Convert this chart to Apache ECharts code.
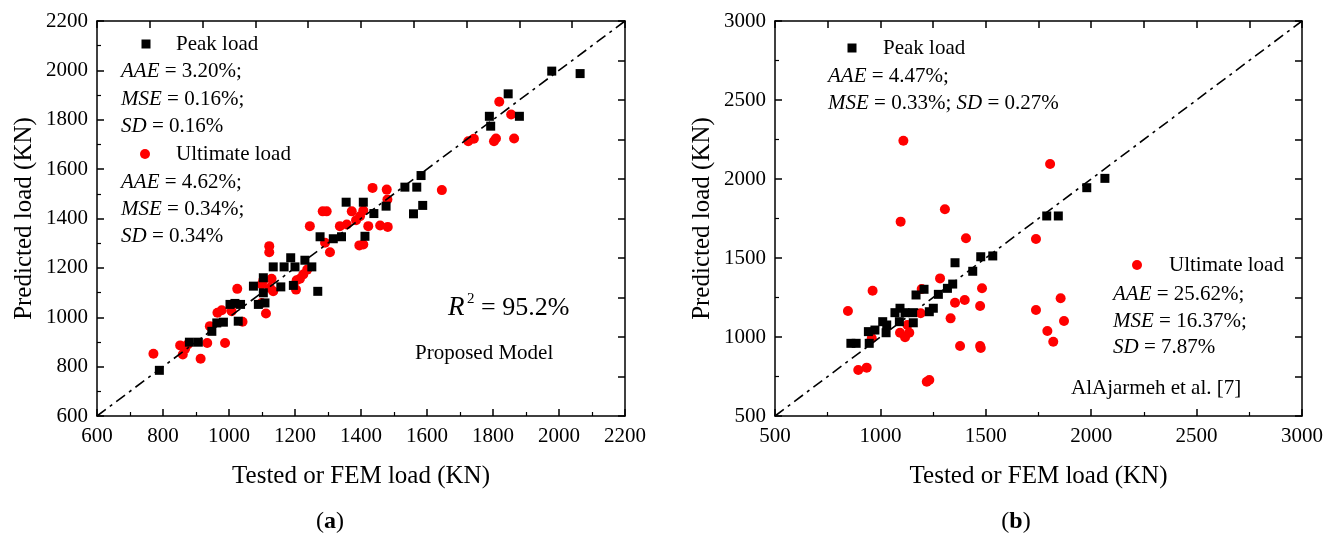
<!DOCTYPE html>
<html>
<head>
<meta charset="utf-8">
<script src="https://cdn.jsdelivr.net/npm/echarts@6/dist/echarts.min.js"></script>
<style>
  html, body { margin: 0; padding: 0; background: #fff; }
  #chart { width: 1339px; height: 538px; }
</style>
</head>
<body>
<div id="chart"></div>
<script>
// ---- axis ranges ----
const rangeA = [600, 2200];      // panel (a) both axes
const stepA = 200;
const rangeB = [500, 3000];      // panel (b) both axes
const stepB = 500;

// ---- panel (a): proposed model, [tested/FEM load, predicted load] ----
const peakA = [
  [789, 785], [880, 899], [907, 899], [948, 943], [963, 977], [983, 980],
  [1003, 1052], [1018, 1056], [1035, 1052], [1028, 984], [1074, 1126], [1089, 1052],
  [1109, 1058], [1104, 1099], [1104, 1160], [1134, 1204], [1157, 1123], [1167, 1204],
  [1187, 1241], [1200, 1204], [1230, 1231], [1251, 1204], [1195, 1129], [1269, 1105],
  [1276, 1326], [1316, 1318], [1341, 1326], [1355, 1466], [1407, 1466], [1439, 1420],
  [1412, 1328], [1476, 1450], [1533, 1527], [1569, 1527], [1582, 1574], [1587, 1453],
  [1559, 1419], [1789, 1814], [1793, 1774], [1880, 1814], [1846, 1905], [1978, 1997],
  [2064, 1987]
];
const ultimateA = [
  [771, 852], [852, 886], [867, 872], [860, 849], [875, 890], [914, 832], [934, 896],
  [988, 896], [942, 964], [965, 1018], [978, 1028], [1008, 1024], [1041, 982],
  [1025, 1115], [1099, 1058], [1112, 1015], [1104, 1150], [1129, 1156], [1099, 1133],
  [1124, 1119], [1134, 1105], [1122, 1288], [1122, 1263], [1205, 1150], [1215, 1156],
  [1225, 1173], [1237, 1193], [1203, 1112], [1245, 1369], [1284, 1429], [1296, 1429],
  [1291, 1302], [1306, 1263], [1336, 1369], [1357, 1376], [1372, 1429], [1385, 1393],
  [1397, 1409], [1407, 1432], [1395, 1291], [1407, 1295], [1422, 1369], [1435, 1524],
  [1478, 1517], [1458, 1372], [1481, 1366], [1480, 1477], [1645, 1515], [1725, 1713],
  [1742, 1723], [1803, 1713], [1809, 1724], [1864, 1724], [1819, 1873], [1855, 1821]
];

// ---- panel (b): AlAjarmeh et al. [7] ----
const peakB = [
  [860, 960], [885, 960], [947, 960], [943, 1034], [974, 1044], [1011, 1097],
  [1027, 1027], [1030, 1076], [1069, 1154], [1093, 1182], [1090, 1097], [1117, 1154],
  [1153, 1154], [1156, 1090], [1169, 1266], [1207, 1302], [1232, 1160], [1251, 1182],
  [1275, 1270], [1318, 1308], [1343, 1335], [1354, 1470], [1438, 1416], [1476, 1508],
  [1533, 1513], [1789, 1766], [1844, 1766], [1979, 1945], [2065, 2004]
];
const ultimateB = [
  [1109, 2242], [1805, 2095], [1306, 1808], [1096, 1730], [1406, 1625], [1738, 1620],
  [963, 1293], [1196, 1304], [1283, 1371], [1482, 1308], [846, 1165], [1354, 1217],
  [1400, 1234], [1473, 1196], [1191, 1150], [1333, 1118], [1738, 1171], [1855, 1245],
  [1871, 1101], [1792, 1038], [1820, 970], [1128, 1076], [1093, 1027], [1137, 1027],
  [1117, 998], [959, 992], [1378, 943], [1473, 943], [1476, 930], [895, 791],
  [935, 806], [1220, 717], [1232, 728]
];

// ---- text ----
const xTitle = 'Tested or FEM load (KN)';
const yTitle = 'Predicted load (KN)';
const nameA = ['Peak load', 'Ultimate load'];

const SERIF = '"Liberation Serif", "Times New Roman", serif';
const BLACK = '#000';
const RED = '#ff0000';

const chart = echarts.init(document.getElementById('chart'), null, { renderer: 'canvas' });

const plainNumber = v => String(v);

function mainX(grid, range, step) {
  return {
    gridIndex: grid, type: 'value', position: 'bottom',
    min: range[0], max: range[1], interval: step,
    name: xTitle, nameLocation: 'middle', nameGap: 48,
    nameTextStyle: { fontFamily: SERIF, fontSize: 25, color: BLACK },
    axisLine: { show: true, onZero: false, lineStyle: { color: BLACK, width: 1.5 } },
    axisTick: { show: true, inside: true, length: 7, lineStyle: { color: BLACK, width: 1.5 } },
    minorTick: { show: true, splitNumber: 2, length: 4, lineStyle: { color: BLACK, width: 1.2 } },
    axisLabel: { fontFamily: SERIF, fontSize: 21, color: BLACK, margin: 10, formatter: plainNumber },
    splitLine: { show: false }
  };
}
function mainY(grid, range, step) {
  return {
    gridIndex: grid, type: 'value', position: 'left',
    min: range[0], max: range[1], interval: step,
    name: yTitle, nameLocation: 'middle', nameGap: 60,
    nameTextStyle: { fontFamily: SERIF, fontSize: 25, color: BLACK },
    axisLine: { show: true, onZero: false, lineStyle: { color: BLACK, width: 1.5 } },
    axisTick: { show: true, inside: true, length: 7, lineStyle: { color: BLACK, width: 1.5 } },
    minorTick: { show: true, splitNumber: 2, length: 4, lineStyle: { color: BLACK, width: 1.2 } },
    axisLabel: { fontFamily: SERIF, fontSize: 21, color: BLACK, margin: 9, formatter: plainNumber },
    splitLine: { show: false }
  };
}
// mirror axes on the top/right edges: ten equal divisions, ticks only
function mirror(grid, pos) {
  return {
    gridIndex: grid, type: 'value', position: pos,
    min: 0, max: 10, interval: 1,
    axisLine: { show: true, onZero: false, lineStyle: { color: BLACK, width: 1.5 } },
    axisTick: { show: true, inside: true, length: 7, lineStyle: { color: BLACK, width: 1.5 } },
    axisLabel: { show: false },
    splitLine: { show: false }
  };
}

function diag(range) {
  return [[range[0], range[0]], [range[1], range[1]]];
}

function scatter(name, data, xi, yi, isPeak) {
  return {
    name: name, type: 'scatter', xAxisIndex: xi, yAxisIndex: yi,
    data: data,
    symbol: isPeak ? 'rect' : 'circle',
    symbolSize: isPeak ? 9 : 10,
    itemStyle: { color: isPeak ? BLACK : RED, opacity: 1 },
    silent: true, z: isPeak ? 3 : 2
  };
}
function diagLine(range, xi, yi) {
  return {
    type: 'line', xAxisIndex: xi, yAxisIndex: yi,
    data: diag(range), symbol: 'none', silent: true, z: 5,
    lineStyle: { color: BLACK, width: 1.6, type: [11, 5, 3, 5] }
  };
}

const RICH = {
  i: { fontFamily: SERIF, fontSize: 21, fontStyle: 'italic', fill: BLACK }
};
function label(x, y, text, size) {
  return {
    type: 'text', x: x, y: y, z: 20,
    style: {
      text: text, fontFamily: SERIF, fontSize: size || 21, fill: BLACK,
      align: 'left', verticalAlign: 'middle', rich: RICH
    }
  };
}
function keySquare(cx, cy) {
  return { type: 'rect', z: 20, shape: { x: cx - 4.5, y: cy - 4.5, width: 9, height: 9 }, style: { fill: BLACK } };
}
function keyDot(cx, cy) {
  return { type: 'circle', z: 20, shape: { cx: cx, cy: cy, r: 5 }, style: { fill: RED } };
}
function caption(x, letter) {
  return {
    type: 'text', x: x, y: 522, z: 20,
    style: { text: '({b|' + letter + '})', fontFamily: SERIF, fontSize: 24, fill: BLACK, align: 'center', verticalAlign: 'middle',
             rich: { b: { fontFamily: SERIF, fontSize: 24, fontWeight: 'bold', fill: BLACK } } }
  };
}

const graphics = [
  // panel (a) key and statistics
  keySquare(146, 44), label(176, 44, nameA[0]),
  label(121, 71, '{i|AAE} = 3.20%;'),
  label(121, 99, '{i|MSE} = 0.16%;'),
  label(121, 126, '{i|SD} = 0.16%'),
  keyDot(145, 154), label(176, 154, nameA[1]),
  label(121, 182, '{i|AAE} = 4.62%;'),
  label(121, 209, '{i|MSE} = 0.34%;'),
  label(121, 236, '{i|SD} = 0.34%'),
  { type: 'text', x: 448, y: 308, z: 20,
    style: { text: 'R', fontFamily: SERIF, fontSize: 27, fontStyle: 'italic', fill: BLACK, align: 'left', verticalAlign: 'middle' } },
  { type: 'text', x: 467, y: 299, z: 20,
    style: { text: '2', fontFamily: SERIF, fontSize: 15, fill: BLACK, align: 'left', verticalAlign: 'middle' } },
  { type: 'text', x: 481, y: 308, z: 20,
    style: { text: '= 95.2%', fontFamily: SERIF, fontSize: 26, fill: BLACK, align: 'left', verticalAlign: 'middle' } },
  label(415, 353, 'Proposed Model'),

  // panel (b) key and statistics
  keySquare(852, 48), label(883, 48, nameA[0]),
  label(828, 76, '{i|AAE} = 4.47%;'),
  label(828, 103, '{i|MSE} = 0.33%; {i|SD} = 0.27%'),
  keyDot(1137, 265), label(1169, 265, nameA[1]),
  label(1113, 294, '{i|AAE} = 25.62%;'),
  label(1113, 321, '{i|MSE} = 16.37%;'),
  label(1113, 347, '{i|SD} = 7.87%'),
  label(1071, 388, 'AlAjarmeh et al. [7]'),

  // panel captions
  caption(330, 'a'),
  caption(1016, 'b')
];

chart.setOption({
  backgroundColor: '#fff',
  animation: false,
  grid: [
    { left: 97, top: 21, width: 528, height: 395 },
    { left: 775, top: 21, width: 527, height: 395 }
  ],
  xAxis: [
    mainX(0, rangeA, stepA), mirror(0, 'top'),
    mainX(1, rangeB, stepB), mirror(1, 'top')
  ],
  yAxis: [
    mainY(0, rangeA, stepA), mirror(0, 'right'),
    mainY(1, rangeB, stepB), mirror(1, 'right')
  ],
  series: [
    scatter(nameA[0], peakA, 0, 0, true),
    scatter(nameA[1], ultimateA, 0, 0, false),
    diagLine(rangeA, 0, 0),
    scatter(nameA[0], peakB, 2, 2, true),
    scatter(nameA[1], ultimateB, 2, 2, false),
    diagLine(rangeB, 2, 2)
  ],
  graphic: graphics
});
</script>
</body>
</html>
